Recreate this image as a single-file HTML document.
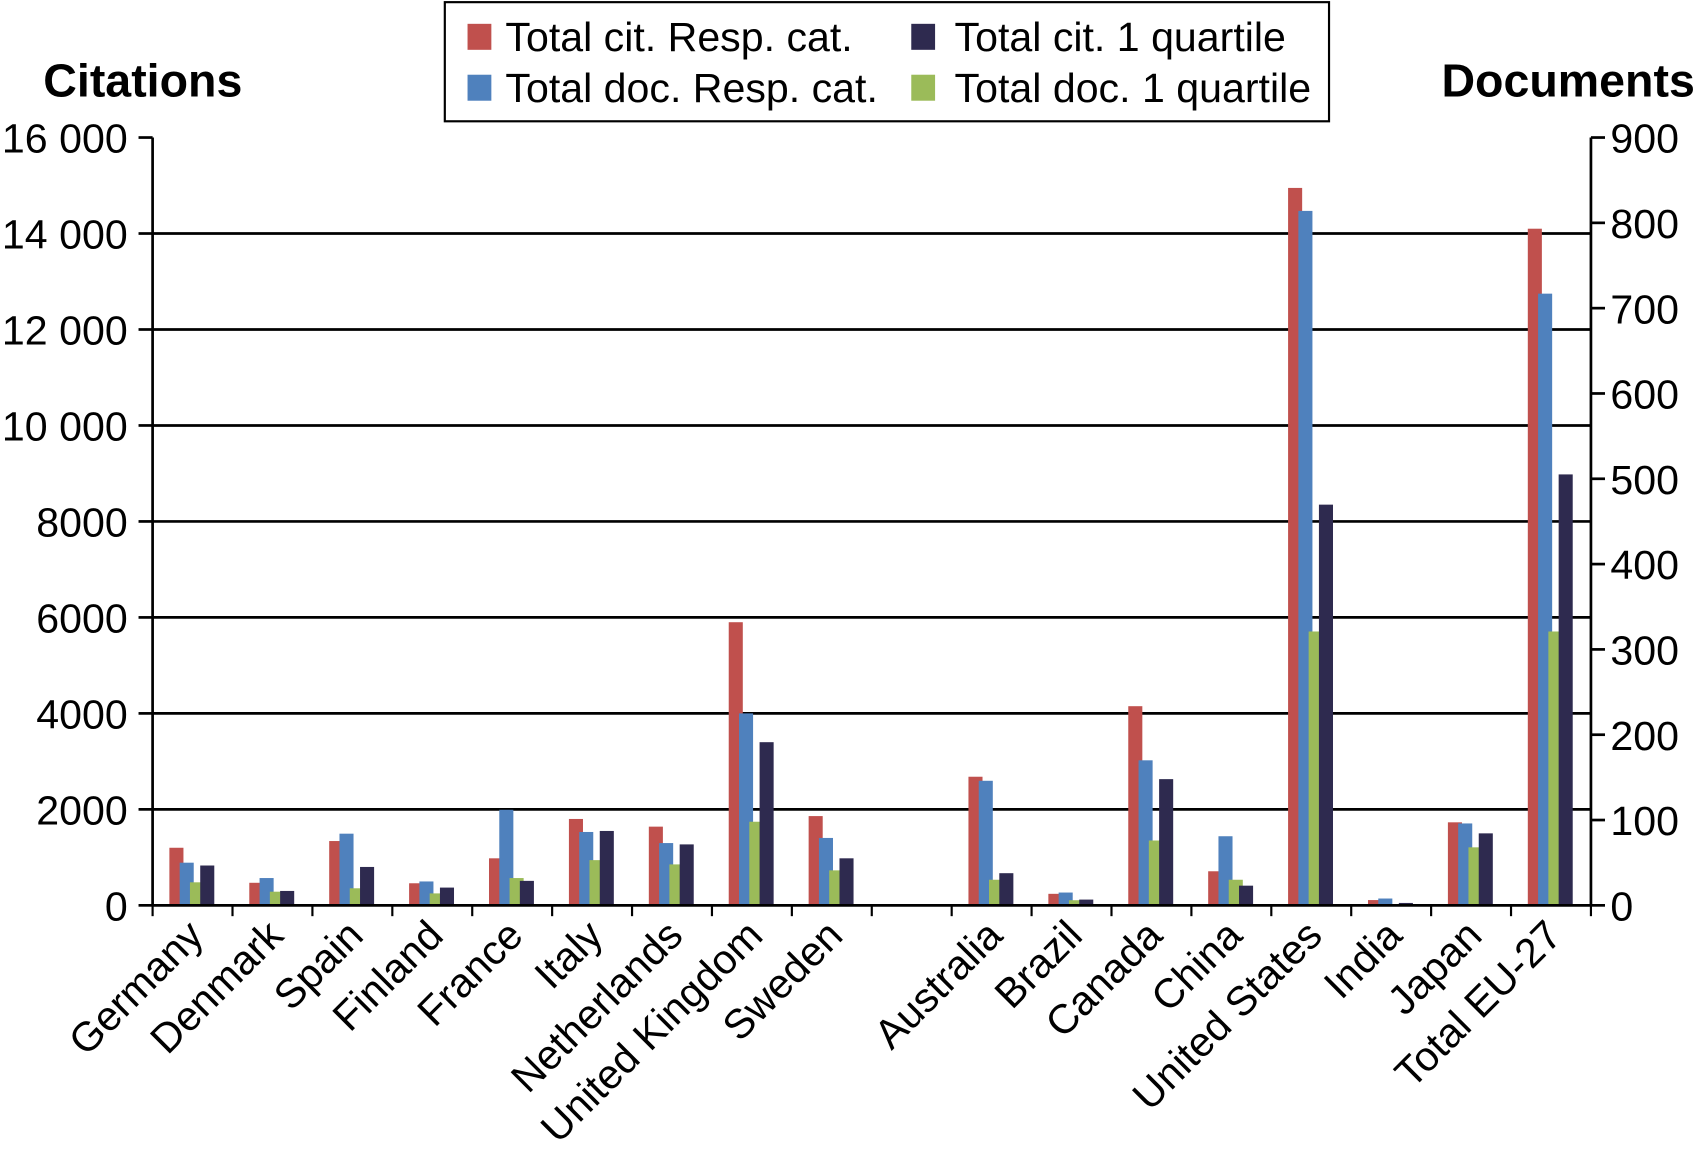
<!DOCTYPE html>
<html><head><meta charset="utf-8"><style>html,body{margin:0;padding:0;background:#fff}svg{display:block}</style></head>
<body>
<svg id="chart" width="1697" height="1162" viewBox="0 0 1568 1073" preserveAspectRatio="none" xmlns="http://www.w3.org/2000/svg" font-family="'Liberation Sans', sans-serif">
<g id="grid"></g>
<g id="bars"></g>
<g id="axes"></g>
<text x="40" y="89" font-size="43" font-weight="bold">Citations</text>
<text x="1566" y="89" font-size="43" font-weight="bold" text-anchor="end">Documents</text>
<g>
<rect x="411" y="2" width="817" height="110" fill="#fff" stroke="#000" stroke-width="2"/>
<g><rect x="432" y="22" width="22" height="24" fill="#c0504d"/><text x="467" y="47" font-size="38">Total cit. Resp. cat.</text></g>
<g><rect x="432" y="69" width="22" height="24" fill="#4f81bd"/><text x="467" y="94" font-size="38">Total doc. Resp. cat.</text></g>
<g><rect x="842" y="22" width="22" height="24" fill="#2e2a4f"/><text x="882" y="47" font-size="38">Total cit. 1 quartile</text></g>
<g><rect x="842" y="69" width="22" height="24" fill="#9bbb59"/><text x="882" y="94" font-size="38">Total doc. 1 quartile</text></g>
</g>
</svg>
<script>
const categories=["Germany","Denmark","Spain","Finland","France","Italy","Netherlands","United Kingdom","Sweden","","Australia","Brazil","Canada","China","United States","India","Japan","Total EU-27"];
const citResp=[1200,470,1340,460,980,1800,1640,5900,1860,null,2680,240,4150,710,14950,110,1730,14100];
const docResp=[50,32,84,28,112,86,73,225,79,null,146,15,170,81,814,8,96,717];
const docQ1=[27,16,20,14,32,53,48,98,41,null,30,6,76,30,321,0,68,321];
const citQ1=[830,300,800,370,510,1550,1270,3400,980,null,670,120,2630,410,8350,50,1500,8980];
const leftTicks=[0,2000,4000,6000,8000,10000,12000,14000,16000];
const leftTickLabels=["0","2000","4000","6000","8000","10 000","12 000","14 000","16 000"];
const rightTicks=[0,100,200,300,400,500,600,700,800,900];

const NS="http://www.w3.org/2000/svg";
const X0=141,X1=1470,Y0=836,Y1=127;
const slot=(X1-X0)/categories.length;
const yL=v=>Y0-(v/16000)*(Y0-Y1);
const yR=v=>Y0-(v/900)*(Y0-Y1);
function mk(tag,attrs,parent){const e=document.createElementNS(NS,tag);for(const k in attrs)e.setAttribute(k,attrs[k]);parent.appendChild(e);return e;}
const grid=document.getElementById('grid'),bars=document.getElementById('bars'),axes=document.getElementById('axes');
leftTicks.forEach((t,i)=>{
  const y=yL(t);
  if(t>0&&t<16000){const l=mk('line',{x1:X0,x2:X1,y1:y,y2:y,stroke:'#000','stroke-width':2.5},grid);
  
  }
  mk('line',{x1:X0-13,x2:X0,y1:y,y2:y,stroke:'#000','stroke-width':2.5},axes);
  const tx=mk('text',{x:X0-23,y:y+14,'font-size':38,'text-anchor':'end'},axes);
  tx.textContent=leftTickLabels[i];
  
  
});
rightTicks.forEach(t=>{
  const y=yR(t);
  mk('line',{x1:X1,x2:X1+13,y1:y,y2:y,stroke:'#000','stroke-width':2.5},axes);
  const tx=mk('text',{x:X1+18,y:y+14,'font-size':38},axes);
  tx.textContent=String(t);
  
  
});
mk('line',{x1:X0,x2:X0,y1:Y1,y2:Y0,stroke:'#000','stroke-width':2.5},axes);
mk('line',{x1:X1,x2:X1,y1:Y1,y2:Y0,stroke:'#000','stroke-width':2.5},axes);
mk('line',{x1:X0,x2:X1,y1:Y0,y2:Y0,stroke:'#000','stroke-width':2.5},axes);
for(let i=0;i<=categories.length;i++){const x=X0+i*slot;mk('line',{x1:x,x2:x,y1:Y0,y2:Y0+10,stroke:'#000','stroke-width':2},axes);}
const series=[[citResp,'#c0504d',yL,'cit-resp'],[docResp,'#4f81bd',yR,'doc-resp'],[docQ1,'#9bbb59',yR,'doc-q1'],[citQ1,'#2e2a4f',yL,'cit-q1']];
categories.forEach((c,i)=>{
  const sx=X0+i*slot;
  series.forEach((s,j)=>{
    const v=s[0][i]; if(v==null)return;
    const y=s[2](v);
    const r=mk('rect',{x:sx+15.5+j*9.5,y:y,width:13,height:Math.max(0,Y0-y),fill:s[1]},bars);
    
    
  });
  if(c){
    const cx=sx+slot/2+12;
    const t=mk('text',{x:cx,y:Y0+30,'font-size':38,'text-anchor':'end',transform:`rotate(-45 ${cx} ${Y0+30})`},axes);
    t.textContent=c;
    
    
  }
});
</script>
</body></html>
